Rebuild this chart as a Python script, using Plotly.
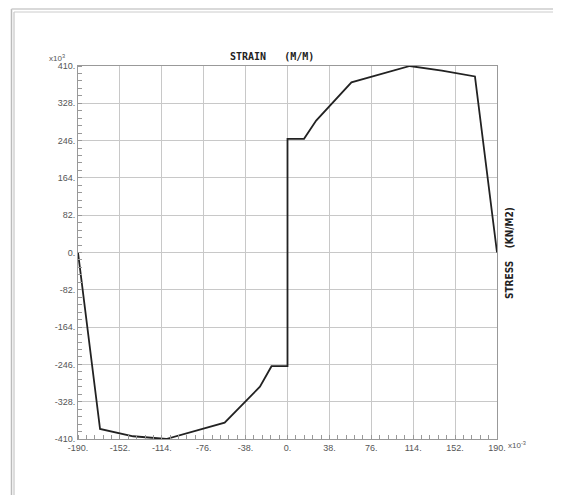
import plotly.graph_objects as go

strain = [-190, -170, -140, -110, -57, -25, -14.5, 0, 0, 15, 26, 58, 111, 140, 170, 190]
stress = [0, -388, -404, -410, -374, -295, -250, -250, 250, 250, 290, 374, 410, 400, 387, 0]

x_ticks = [-190, -152, -114, -76, -38, 0, 38, 76, 114, 152, 190]
x_labels = ["-190.", "-152.", "-114.", "-76.", "-38.", "0.", "38.", "76.", "114.", "152.", "190."]
y_ticks = [-410, -328, -246, -164, -82, 0, 82, 164, 246, 328, 410]
y_labels = ["-410.", "-328.", "-246.", "-164.", "-82.", "0.", "82.", "164.", "246.", "328.", "410."]

OFF = 8  # page body margin
W, H = 561 - OFF, 495 - OFF
# plot area in page pixel coords
L, R, T, B = 78, 497, 66, 439

def px(x):
    return (x - L) / (R - L)

def py(y):
    return (B - y) / (B - T)

fig = go.Figure()
fig.add_trace(go.Scatter(x=strain, y=stress, mode="lines",
                         line=dict(color="#222222", width=1.8), hoverinfo="skip"))

tickfont = dict(family="Liberation Sans, Arial", size=9, color="#555555")
fig.update_xaxes(range=[-190, 190], tickvals=x_ticks, ticktext=x_labels,
                 showgrid=True, gridcolor="#c8c8c8", gridwidth=1,
                 showline=True, linecolor="#999999", linewidth=1, mirror=True,
                 ticks="", zeroline=False, tickfont=tickfont,
                 minor=dict(ticks="inside", dtick=7.6, tick0=-190, ticklen=4,
                            tickcolor="#999999", showgrid=False))
fig.update_yaxes(range=[-410, 410], tickvals=y_ticks, ticktext=y_labels,
                 showgrid=True, gridcolor="#c8c8c8", gridwidth=1,
                 showline=True, linecolor="#999999", linewidth=1, mirror=True,
                 ticks="", zeroline=False, tickfont=tickfont,
                 minor=dict(ticks="inside", dtick=16.4, tick0=-410, ticklen=4,
                            tickcolor="#999999", showgrid=False))

shapes = [
    dict(type="line", xref="paper", yref="paper", x0=px(11.5), x1=px(11.5), y0=py(9), y1=py(500),
         line=dict(color="#bbbbbb", width=1.5)),
    dict(type="line", xref="paper", yref="paper", x0=px(14), x1=px(14), y0=py(12), y1=py(500),
         line=dict(color="#bbbbbb", width=1)),
    dict(type="line", xref="paper", yref="paper", x0=px(11.5), x1=px(559), y0=py(9), y1=py(9),
         line=dict(color="#cccccc", width=1.5)),
    dict(type="line", xref="paper", yref="paper", x0=px(14), x1=px(559), y0=py(12), y1=py(12),
         line=dict(color="#cccccc", width=1)),
    dict(type="line", xref="paper", yref="paper", x0=px(559), x1=px(559), y0=py(9), y1=py(500),
         line=dict(color="#999999", width=1.5)),
]

annotations = [
    dict(text="<b>STRAIN   (M/M)</b>", xref="paper", yref="paper", x=px(272), y=py(57),
         showarrow=False, font=dict(family="DejaVu Sans Mono", size=10, color="#222222"),
         xanchor="center", yanchor="middle"),
    dict(text="<b>STRESS    (KN/M2)</b>", xref="paper", yref="paper", x=px(509), y=py(253),
         showarrow=False, textangle=-90,
         font=dict(family="Liberation Sans Narrow, DejaVu Sans Condensed", size=10, color="#222222"),
         xanchor="center", yanchor="middle"),
    dict(text="x10<sup>3</sup>", xref="paper", yref="paper", x=px(57), y=py(58),
         showarrow=False, font=dict(family="Liberation Sans, Arial", size=8, color="#555555"),
         xanchor="center", yanchor="middle"),
    dict(text="x10<sup>-3</sup>", xref="paper", yref="paper", x=px(506), y=py(445),
         showarrow=False, font=dict(family="Liberation Sans, Arial", size=8, color="#555555"),
         xanchor="left", yanchor="middle"),
]

fig.update_layout(width=W, height=H,
                  margin=dict(l=L - OFF, r=W - (R - OFF), t=T - OFF, b=H - (B - OFF)),
                  paper_bgcolor="white", plot_bgcolor="white", showlegend=False,
                  shapes=shapes, annotations=annotations)

fig.write_html("out.html")
